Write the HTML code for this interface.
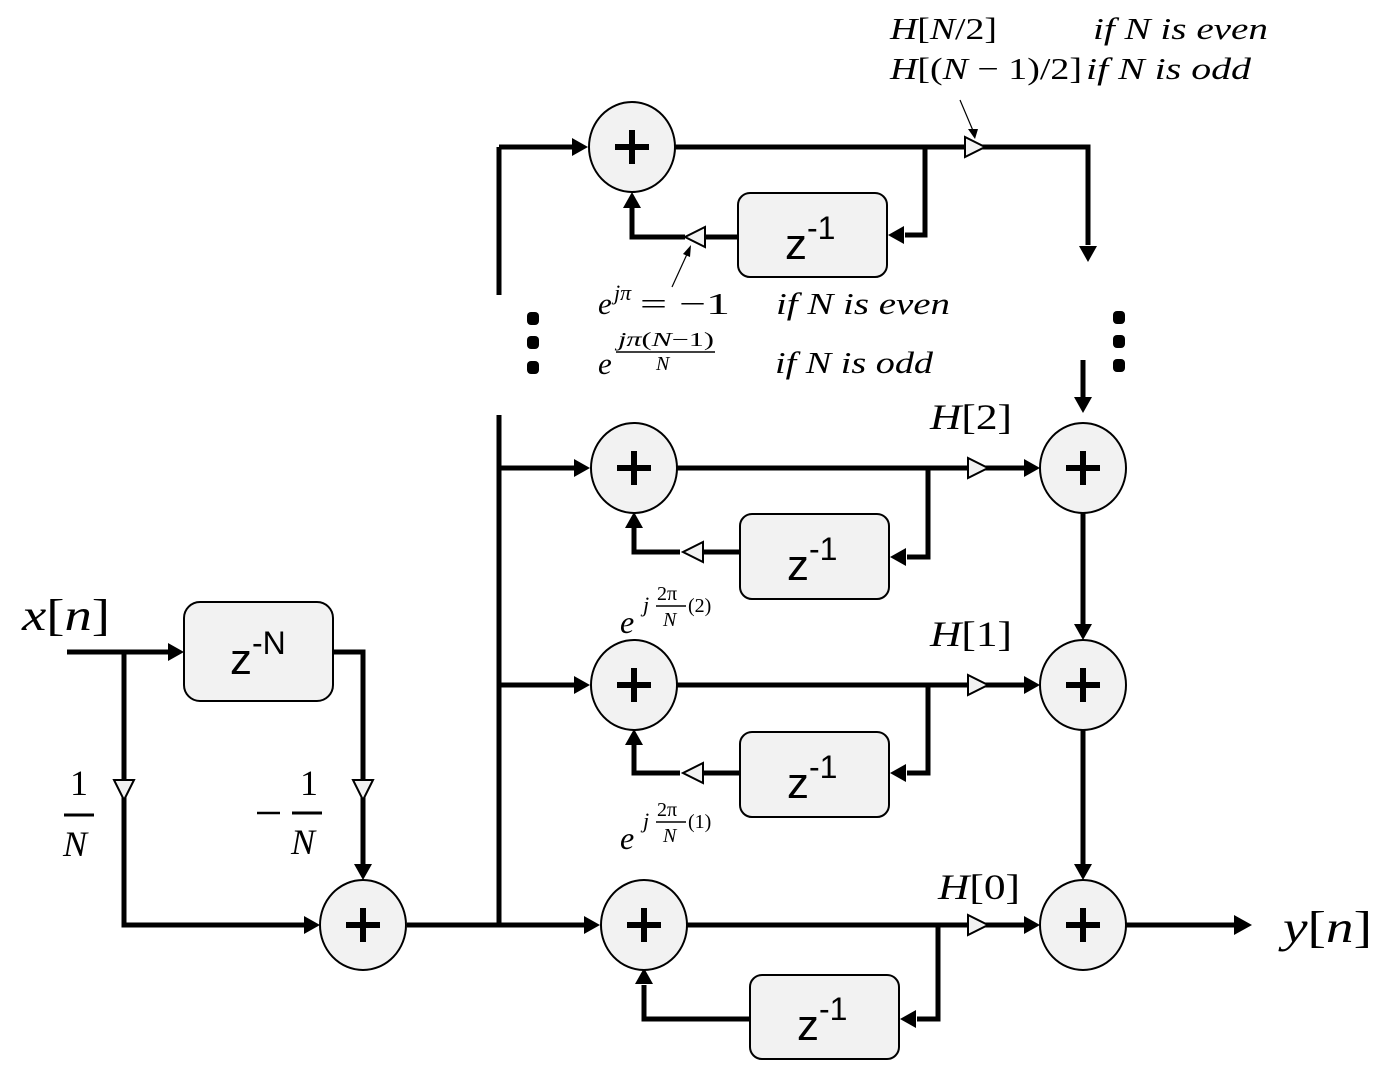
<!DOCTYPE html>
<html><head><meta charset="utf-8"><style>
html,body{margin:0;padding:0;background:#fff}
svg{display:block}
.m{font-family:"Liberation Serif",serif;font-style:italic;fill:#000}
.r{font-family:"Liberation Serif",serif;fill:#000}
.z{font-family:"Liberation Sans","DejaVu Sans",sans-serif;fill:#000}
</style></head><body>
<svg width="1397" height="1089" viewBox="0 0 1397 1089" xmlns="http://www.w3.org/2000/svg">
<defs>
<g id="add"><ellipse cx="0" cy="0" rx="43" ry="45" fill="#f2f2f2" stroke="#000" stroke-width="2"/><path d="M-17,0H17M0,-17V17" stroke="#000" stroke-width="6"/></g>
</defs>
<g fill="none" stroke="#000" stroke-width="5">
<path d="M67,652H170"/><path d="M124,652V925H305"/>
<path d="M333,652H363V865"/>
<path d="M407,925H585"/>
<path d="M499,147V295M499,415V925M499,468H577M499,685H577"/>
<path d="M499,147H572"/>
<path d="M675,147H1088V245"/><path d="M925,147V235H905"/>
<path d="M738,237H705M685,237H632V208"/>
<path d="M677,468H1025"/><path d="M928,468V557H907"/><path d="M740,552H703M680,552H634V528"/>
<path d="M677,685H1025"/><path d="M928,685V773H907"/><path d="M740,773H703M680,773H634V745"/>
<path d="M687,925H1025"/><path d="M938,925V1019H917"/><path d="M750,1019H644V985"/>
<path d="M1083,360V398M1083,513V625M1083,730V865M1126,925H1235"/>
</g>
<g fill="#000">
<path d="M184,652l-16,-9v18z"/>
<path d="M320,925l-16,-9v18z"/>
<path d="M363,880l-9,-16h18z"/>
<path d="M588,147l-16,-9v18z"/>
<path d="M590,468l-16,-9v18z"/>
<path d="M590,685l-16,-9v18z"/>
<path d="M600,925l-16,-9v18z"/>
<path d="M632,192l-9,16h18z"/>
<path d="M634,512l-9,16h18z"/>
<path d="M634,729l-9,16h18z"/>
<path d="M644,968l-9,16h18z"/>
<path d="M888,235l16,-9v18z"/>
<path d="M890,557l16,-9v18z"/>
<path d="M890,773l16,-9v18z"/>
<path d="M900,1019l16,-9v18z"/>
<path d="M1088,262l-9,-16h18z"/>
<path d="M1083,413l-9,-16h18z"/>
<path d="M1083,640l-9,-16h18z"/>
<path d="M1083,880l-9,-16h18z"/>
<path d="M1040,468l-16,-9v18z"/>
<path d="M1040,685l-16,-9v18z"/>
<path d="M1040,925l-16,-9v18z"/>
<path d="M1252,925l-18,-10v20z"/>
<rect x="527" y="312" width="12" height="13" rx="4"/><rect x="527" y="336" width="12" height="13" rx="4"/><rect x="527" y="361" width="12" height="13" rx="4"/>
<rect x="1113" y="311" width="12" height="13" rx="4"/><rect x="1113" y="335" width="12" height="13" rx="4"/><rect x="1113" y="359" width="12" height="13" rx="4"/>
</g>
<g fill="#f2f2f2" stroke="#000" stroke-width="2">
<path d="M114,780h20l-10,20z"/>
<path d="M353,780h20l-10,20z"/>
<path d="M965,137v20l20,-10z"/>
<path d="M968,458v20l20,-10z"/>
<path d="M968,675v20l20,-10z"/>
<path d="M968,915v20l20,-10z"/>
<path d="M705,227v20l-20,-10z"/>
<path d="M703,542v20l-20,-10z"/>
<path d="M703,763v20l-20,-10z"/>
</g>
<path d="M960,100L974,133" stroke="#000" stroke-width="1.2"/>
<path d="M975,139l-7,-10h10z" fill="#000"/>
<path d="M672,287L688,252" stroke="#000" stroke-width="1.2"/>
<path d="M691,245l-1,12l-7,-3z" fill="#000"/>
<g fill="#f2f2f2" stroke="#000" stroke-width="2">
<rect x="184" y="602" width="149" height="99" rx="16"/>
<rect x="738" y="193" width="149" height="84" rx="12"/>
<rect x="740" y="514" width="149" height="85" rx="12"/>
<rect x="740" y="732" width="149" height="85" rx="12"/>
<rect x="750" y="975" width="149" height="84" rx="12"/>
</g>
<g class="z" font-size="44">
<text x="230" y="674">z<tspan dy="-20" font-size="32">-N</tspan></text>
<text x="785" y="259">z<tspan dy="-20" font-size="32">-1</tspan></text>
<text x="787" y="580">z<tspan dy="-20" font-size="32">-1</tspan></text>
<text x="787" y="798">z<tspan dy="-20" font-size="32">-1</tspan></text>
<text x="797" y="1040">z<tspan dy="-20" font-size="32">-1</tspan></text>
</g>
<use href="#add" x="632" y="147"/><use href="#add" x="634" y="468"/><use href="#add" x="634" y="685"/><use href="#add" x="644" y="925"/>
<use href="#add" x="363" y="925"/>
<use href="#add" x="1083" y="468"/><use href="#add" x="1083" y="685"/><use href="#add" x="1083" y="925"/>
<text class="m" x="22" y="630" font-size="44" textLength="88" lengthAdjust="spacingAndGlyphs">x<tspan font-style="normal">[</tspan>n<tspan font-style="normal">]</tspan></text>
<text class="m" x="1283" y="942" font-size="44" textLength="89" lengthAdjust="spacingAndGlyphs">y<tspan font-style="normal">[</tspan>n<tspan font-style="normal">]</tspan></text>
<text class="r" x="70" y="795" font-size="36">1</text><path d="M64,815H94" stroke="#000" stroke-width="3"/><text class="m" x="63" y="856" font-size="36">N</text>
<path d="M257,813H280" stroke="#000" stroke-width="2.5"/>
<text class="r" x="300" y="795" font-size="36">1</text><path d="M292,813H322" stroke="#000" stroke-width="3"/><text class="m" x="291" y="854" font-size="36">N</text>
<text class="m" x="890" y="39" font-size="31" textLength="107" lengthAdjust="spacingAndGlyphs">H<tspan font-style="normal">[</tspan>N<tspan font-style="normal">/2]</tspan></text>
<text class="m" x="1093" y="39" font-size="31" textLength="175" lengthAdjust="spacingAndGlyphs">if N is even</text>
<text class="m" x="890" y="79" font-size="31" textLength="192" lengthAdjust="spacingAndGlyphs">H<tspan font-style="normal">[(</tspan>N<tspan font-style="normal"> − 1)/2]</tspan></text>
<text class="m" x="1086" y="79" font-size="31" textLength="165" lengthAdjust="spacingAndGlyphs">if N is odd</text>
<text class="m" x="598" y="314" font-size="31">e</text>
<text class="m" x="614" y="300" font-size="22">jπ</text>
<text class="r" x="640" y="314" font-size="31" textLength="90" lengthAdjust="spacingAndGlyphs">= −1</text>
<text class="m" x="776" y="314" font-size="31" textLength="174" lengthAdjust="spacingAndGlyphs">if N is even</text>
<text class="m" x="598" y="374" font-size="31">e</text>
<text class="m" x="618" y="346" font-size="20" textLength="96" lengthAdjust="spacingAndGlyphs">jπ<tspan font-style="normal">(</tspan>N<tspan font-style="normal">−1)</tspan></text>
<path d="M616,352H715" stroke="#000" stroke-width="1.5"/>
<text class="m" x="656" y="370" font-size="20">N</text>
<text class="m" x="775" y="373" font-size="31" textLength="158" lengthAdjust="spacingAndGlyphs">if N is odd</text>
<text class="m" x="930" y="429" font-size="36" textLength="82" lengthAdjust="spacingAndGlyphs">H<tspan font-style="normal">[2]</tspan></text>
<text class="m" x="930" y="646" font-size="36" textLength="82" lengthAdjust="spacingAndGlyphs">H<tspan font-style="normal">[1]</tspan></text>
<text class="m" x="938" y="899" font-size="36" textLength="82" lengthAdjust="spacingAndGlyphs">H<tspan font-style="normal">[0]</tspan></text>
<g>
<text class="m" x="620" y="633" font-size="32">e</text>
<text class="m" x="643" y="612" font-size="22">j</text>
<text class="r" x="657" y="600" font-size="20">2π</text><path d="M656,606H686" stroke="#000" stroke-width="1.5"/><text class="m" x="663" y="626" font-size="20">N</text>
<text class="r" x="688" y="612" font-size="20">(2)</text>
</g>
<g>
<text class="m" x="620" y="849" font-size="32">e</text>
<text class="m" x="643" y="828" font-size="22">j</text>
<text class="r" x="657" y="816" font-size="20">2π</text><path d="M656,822H686" stroke="#000" stroke-width="1.5"/><text class="m" x="663" y="842" font-size="20">N</text>
<text class="r" x="688" y="828" font-size="20">(1)</text>
</g>
</svg>
</body></html>
